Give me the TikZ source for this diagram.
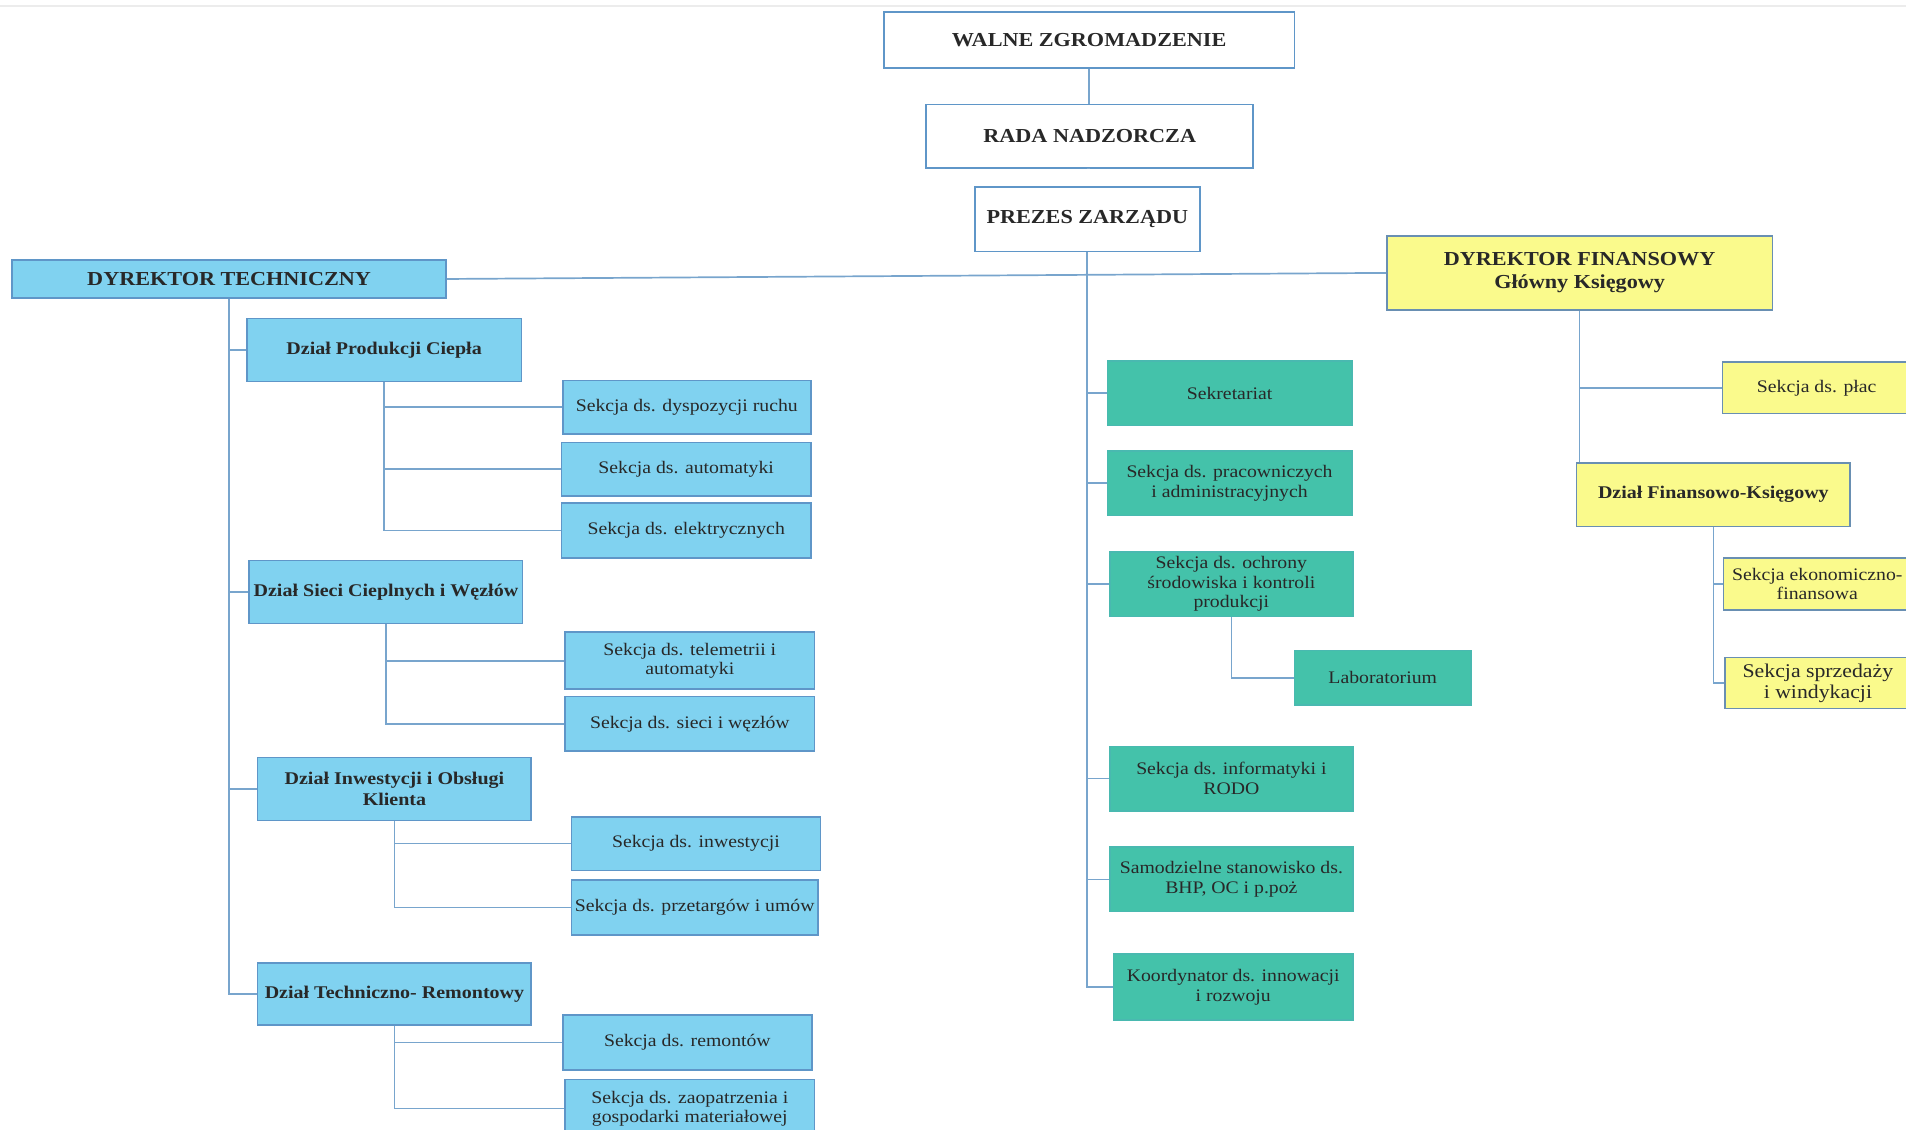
\documentclass[tikz,border=0pt]{standalone}
\usepackage{fontspec}
\setmainfont[FakeStretch=1.12]{Liberation Serif}
\usepackage{tikz}
\definecolor{boxblue}{RGB}{128,210,240}
\definecolor{boxteal}{RGB}{68,194,170}
\definecolor{boxyellow}{RGB}{250,250,140}
\definecolor{lineblue}{RGB}{95,150,200}
\definecolor{connblue}{RGB}{120,165,205}
\definecolor{txtgray}{RGB}{40,40,40}
\tikzset{
	base/.style={draw=lineblue, line width=1.3pt, inner sep=1pt, align=center, text=txtgray},
	topbox/.style={base, fill=white, font=\bfseries\fontsize{16.3}{19}\selectfont},
	techbox/.style={base, fill=boxblue, font=\fontsize{14.5}{15.5}\selectfont},
	deptbox/.style={techbox, font=\bfseries\fontsize{14.7}{16.5}\selectfont},
	midbox/.style={base, fill=boxteal, draw=boxteal!80!lineblue, font=\fontsize{14.5}{16}\selectfont},
	finbox/.style={base, fill=boxyellow, draw=lineblue!70!gray, font=\fontsize{14.5}{15.5}\selectfont},
	conn/.style={draw=connblue, line width=1.4pt},
}

\begin{document}
\begin{tikzpicture}[x=1pt, y=-1pt]
			\useasboundingbox (0,0) rectangle (1568,929);
			\draw[gray!15, line width=1pt] (0,5) -- (1568,5);
			% zarzad
			\node[topbox, minimum width=338pt, minimum height=46pt] (walne) at (896,33) {WALNE ZGROMADZENIE};
			\node[topbox, minimum width=269pt, minimum height=52pt] (rada) at (896.5,112) {RADA NADZORCZA};
			\node[topbox, minimum width=185pt, minimum height=53pt] (prezes) at (894.5,180.5) {PREZES ZARZĄDU};
			\node[techbox, font=\bfseries\fontsize{16.3}{19}\selectfont, minimum width=357pt, minimum height=31pt] (dt) at (188.5,229.5) {DYREKTOR TECHNICZNY};
			\node[finbox, font=\bfseries\fontsize{16.3}{19}\selectfont, minimum width=317pt, minimum height=61pt] (df) at (1299.5,224.5) {DYREKTOR FINANSOWY\\Główny Księgowy};
			% pion techniczny
			\node[deptbox, minimum width=226pt, minimum height=52pt] (dpc) at (316,288) {Dział Produkcji Ciepła};
			\node[deptbox, minimum width=225pt, minimum height=52pt] (dsc) at (317.5,487) {Dział Sieci Cieplnych i Węzłów};
			\node[deptbox, minimum width=225pt, minimum height=52pt] (dio) at (324.5,649) {Dział Inwestycji i Obsługi\\Klienta};
			\node[deptbox, minimum width=225pt, minimum height=51pt] (dtr) at (324.5,817.5) {Dział Techniczno- Remontowy};
			\node[techbox, minimum width=204pt, minimum height=44pt] (s11) at (565,335) {Sekcja ds. dyspozycji ruchu};
			\node[techbox, minimum width=205pt, minimum height=44pt] (s12) at (564.5,386) {Sekcja ds. automatyki};
			\node[techbox, minimum width=205pt, minimum height=45pt] (s13) at (564.5,436.5) {Sekcja ds. elektrycznych};
			\node[techbox, minimum width=205pt, minimum height=47pt] (s21) at (567.5,543.5) {Sekcja ds. telemetrii i\\automatyki};
			\node[techbox, minimum width=205pt, minimum height=45pt] (s22) at (567.5,595.5) {Sekcja ds. sieci i węzłów};
			\node[techbox, minimum width=205pt, minimum height=44pt] (s31) at (572.5,694) {Sekcja ds. inwestycji};
			\node[techbox, minimum width=203pt, minimum height=45pt] (s32) at (571.5,746.5) {Sekcja ds. przetargów i umów};
			\node[techbox, minimum width=205pt, minimum height=45pt] (s41) at (565.5,857.5) {Sekcja ds. remontów};
			\node[techbox, minimum width=205pt, minimum height=48pt] (s42) at (567.5,912) {Sekcja ds. zaopatrzenia i\\gospodarki materiałowej};
			% podlegle prezesowi
			\node[midbox, minimum width=201pt, minimum height=53pt] (sek) at (1011.5,323.5) {Sekretariat};
			\node[midbox, minimum width=201pt, minimum height=53pt] (spa) at (1011.5,397.5) {Sekcja ds. pracowniczych\\i administracyjnych};
			\node[midbox, minimum width=200pt, minimum height=53pt] (soc) at (1013,480.5) {Sekcja ds. ochrony\\środowiska i kontroli\\produkcji};
			\node[midbox, minimum width=145pt, minimum height=45pt] (lab) at (1137.5,557.5) {Laboratorium};
			\node[midbox, minimum width=200pt, minimum height=53pt] (sin) at (1013,640.5) {Sekcja ds. informatyki i\\RODO};
			\node[midbox, minimum width=200pt, minimum height=53pt] (bhp) at (1013,723.5) {Samodzielne stanowisko ds.\\BHP, OC i p.poż};
			\node[midbox, minimum width=197pt, minimum height=54pt] (koo) at (1014.5,812) {Koordynator ds. innowacji\\i rozwoju};
			% pion finansowy
			\node[finbox, minimum width=155pt, minimum height=42pt] (plac) at (1494.5,319) {Sekcja ds. płac};
			\node[finbox, font=\bfseries\fontsize{14.7}{16.5}\selectfont, minimum width=225pt, minimum height=52pt] (dfk) at (1409.5,407) {Dział Finansowo-Księgowy};
			\node[finbox, minimum width=154pt, minimum height=43pt] (ekf) at (1495,480.5) {Sekcja ekonomiczno-\\finansowa};
			\node[finbox, font=\fontsize{16}{17}\selectfont, minimum width=153pt, minimum height=42pt] (spw) at (1495.5,562) {Sekcja sprzedaży\\i windykacji};
			% polaczenia
			\draw[conn] (walne.south) -- (walne.south |- rada.north);
			\draw[conn] (rada.south) -- (rada.south -| prezes.north);
			\draw[conn] (dt.east) -- (df.west);
			\foreach \n in {sek,spa,soc,sin,bhp,koo}
				\draw[conn] (prezes.south) |- (\n.west);
			\draw[conn] (soc.south) |- (lab.west);
			\foreach \n in {dpc,dsc,dio,dtr}
				\draw[conn] (dt.south) |- (\n.west);
			\foreach \n in {s11,s12,s13}
				\draw[conn] (dpc.south) |- (\n.west);
			\foreach \n in {s21,s22}
				\draw[conn] (dsc.south) |- (\n.west);
			\foreach \n in {s31,s32}
				\draw[conn] (dio.south) |- (\n.west);
			\foreach \n in {s41,s42}
				\draw[conn] (dtr.south) |- (\n.west);
			\draw[conn] (df.south) |- (plac.west);
			\draw[conn] (df.south) -- (df.south |- dfk.north);
			\foreach \n in {ekf,spw}
				\draw[conn] (dfk.south) |- (\n.west);
		\end{tikzpicture}
\end{document}
